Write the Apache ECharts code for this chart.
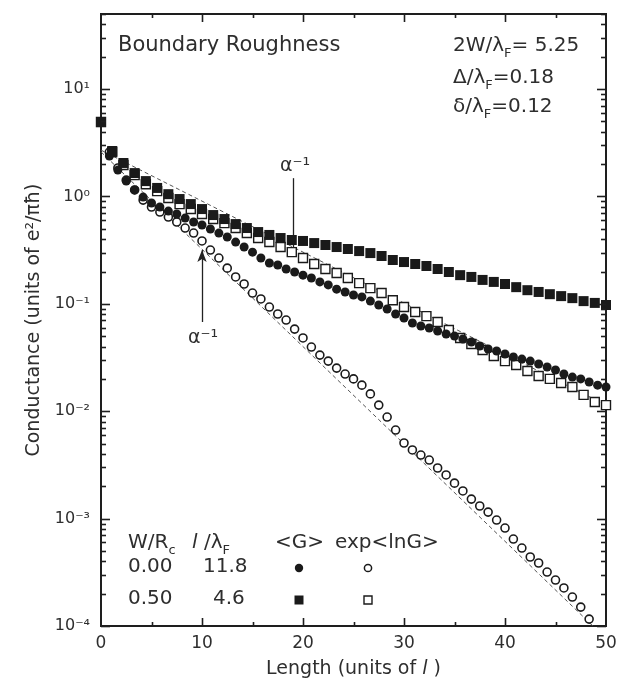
<!DOCTYPE html>
<html>
<head>
<meta charset="utf-8">
<script src="https://cdn.jsdelivr.net/npm/echarts@6/dist/echarts.min.js"></script>
<style>
  html, body { margin: 0; padding: 0; background: #ffffff; }
  #chart { width: 620px; height: 690px; }
</style>
</head>
<body>
<div id="chart"></div>
<script>
// Conductance vs. wire length, boundary roughness model
const FONT = "'DejaVu Sans', 'Liberation Sans', sans-serif";
const INK = '#2e2e2e';
const MARK = '#1a1a1a';

// Length samples (units of l)
const lengthW0 = [0, 0.83, 1.67, 2.5, 3.33, 4.17, 5, 5.83, 6.67, 7.5, 8.33, 9.17, 10, 10.83, 11.67, 12.5,
  13.33, 14.17, 15, 15.83, 16.67, 17.5, 18.33, 19.17, 20, 20.83, 21.67, 22.5, 23.33, 24.17, 25, 25.83,
  26.67, 27.5, 28.33, 29.17, 30, 30.83, 31.67, 32.5, 33.33, 34.17, 35, 35.83, 36.67, 37.5, 38.33, 39.17,
  40, 40.83, 41.67, 42.5, 43.33, 44.17, 45, 45.83, 46.67, 47.5, 48.33, 49.17, 50];
const lengthW05 = [0, 1.11, 2.22, 3.33, 4.44, 5.56, 6.67, 7.78, 8.89, 10, 11.11, 12.22, 13.33, 14.44, 15.56,
  16.67, 17.78, 18.89, 20, 21.11, 22.22, 23.33, 24.44, 25.56, 26.67, 27.78, 28.89, 30, 31.11, 32.22, 33.33,
  34.44, 35.56, 36.67, 37.78, 38.89, 40, 41.11, 42.22, 43.33, 44.44, 45.56, 46.67, 47.78, 48.89, 50];

// W/Rc = 0.00 : <G>
const meanG_W0 = [4.93, 2.38, 1.76, 1.39, 1.15, 0.987, 0.869, 0.797, 0.731, 0.686,
  0.629, 0.578, 0.542, 0.497, 0.456, 0.419, 0.376, 0.338, 0.303, 0.267,
  0.240, 0.230, 0.211, 0.198, 0.185, 0.174, 0.160, 0.150, 0.137, 0.129,
  0.121, 0.116, 0.106, 0.0975, 0.0895, 0.0804, 0.0738, 0.0663, 0.0621, 0.0595,
  0.0558, 0.0524, 0.0501, 0.0470, 0.0441, 0.0405, 0.0380, 0.0364, 0.0341, 0.0320,
  0.0306, 0.0293, 0.0275, 0.0258, 0.0242, 0.0222, 0.0208, 0.0200, 0.0187, 0.0175, 0.0168];
// W/Rc = 0.00 : exp<lnG>
const typG_W0 = [4.93, 2.59, 1.84, 1.42, 1.15, 0.925, 0.797, 0.716, 0.643, 0.578,
  0.508, 0.456, 0.385, 0.317, 0.267, 0.215, 0.178, 0.153, 0.126, 0.111,
  0.0933, 0.0804, 0.0706, 0.0582, 0.0481, 0.0396, 0.0333, 0.0293, 0.0252, 0.0222,
  0.0200, 0.0175, 0.0145, 0.0114, 0.00883, 0.00668, 0.00506, 0.00436, 0.00391, 0.00351,
  0.00296, 0.00255, 0.00214, 0.00181, 0.00152, 0.00131, 0.00115, 0.000970, 0.000817, 0.000645,
  0.000532, 0.000439, 0.000386, 0.000318, 0.000268, 0.000226, 0.000186, 0.000150, 0.000116];
// W/Rc = 0.50 : <G>
const meanG_W05 = [4.93, 2.65, 2.05, 1.65, 1.39, 1.20, 1.05, 0.946, 0.849, 0.763,
  0.671, 0.616, 0.553, 0.508, 0.466, 0.438, 0.410, 0.393, 0.385, 0.368,
  0.353, 0.338, 0.324, 0.310, 0.297, 0.279, 0.256, 0.245, 0.235, 0.225,
  0.211, 0.198, 0.185, 0.178, 0.167, 0.160, 0.153, 0.143, 0.134, 0.129,
  0.123, 0.118, 0.113, 0.106, 0.102, 0.0975];
// W/Rc = 0.50 : exp<lnG>
const typG_W05 = [4.93, 2.59, 1.96, 1.58, 1.30, 1.12, 0.966, 0.849, 0.763, 0.686,
  0.616, 0.565, 0.508, 0.456, 0.410, 0.376, 0.338, 0.303, 0.267, 0.235,
  0.211, 0.194, 0.174, 0.156, 0.140, 0.126, 0.108, 0.0933, 0.0839, 0.0769,
  0.0677, 0.0570, 0.0481, 0.0422, 0.0372, 0.0327, 0.0293, 0.0269, 0.0237, 0.0213,
  0.0200, 0.0183, 0.0168, 0.0142, 0.0122, 0.0114];

// Exponential fits to exp<lnG> (end points)
const fitW0 = [[0, 2.6], [48.7, 1e-4]];
const fitW05 = [[0, 2.7], [50, 0.0114]];

// Localization-length markers (alpha^-1)
const alphaW05 = [[19, 1.48], [19, 0.331]];
const alphaW0 = [[10, 0.0677], [10, 0.317]];

// Axis ranges and ticks
const X_MIN = 0, X_MAX = 50;
const Y_MIN = 1e-4, Y_MAX = 50;
const xMajor = [10, 20, 30, 40];
const xMinor = [5, 15, 25, 35, 45];
const yDecades = [1e-4, 1e-3, 1e-2, 1e-1, 1, 10];
const yMinor = [];
yDecades.forEach(function (d) {
  for (let m = 2; m <= 9; m++) { if (m * d <= Y_MAX) yMinor.push(m * d); }
});

const supDigits = { '-': '⁻', '0': '⁰', '1': '¹', '2': '²', '3': '³', '4': '⁴' };
function powerLabel(v) {
  const e = String(Math.round(Math.log10(v)));
  return '10' + e.split('').map(function (c) { return supDigits[c]; }).join('');
}
function pairs(xs, ys) { return ys.map(function (y, i) { return [xs[i], y]; }); }

const chart = echarts.init(document.getElementById('chart'), null, { renderer: 'canvas' });

const axisLine = { show: true, onZero: false, lineStyle: { color: '#1e1e1e', width: 2 } };
const TICK_COLOR = '#1e1e1e';

// Inward ticks on all four frame sides, placed through the axis scales
const tickItems = []
  .concat(yDecades.map(function (v) { return ['y', v, 9]; }))
  .concat(yMinor.map(function (v) { return ['y', v, 5]; }))
  .concat(xMajor.map(function (v) { return ['x', v, 8]; }))
  .concat(xMinor.map(function (v) { return ['x', v, 4]; }));

function tickLine(x1, y1, x2, y2) {
  return {
    type: 'line', shape: { x1: x1, y1: y1, x2: x2, y2: y2 },
    style: { stroke: TICK_COLOR, lineWidth: 1.6, fill: null }
  };
}
function renderTick(params, api) {
  const item = tickItems[params.dataIndex];
  const cs = params.coordSys;
  const len = item[2];
  if (item[0] === 'y') {
    const py = Math.round(api.coord([X_MIN, item[1]])[1]) + 0.5;
    return { type: 'group', children: [
      tickLine(cs.x, py, cs.x + len, py),
      tickLine(cs.x + cs.width, py, cs.x + cs.width - len, py)
    ] };
  }
  const px = Math.round(api.coord([item[1], Y_MAX])[0]) + 0.5;
  return { type: 'group', children: [
    tickLine(px, cs.y + cs.height, px, cs.y + cs.height - len),
    tickLine(px, cs.y, px, cs.y + len)
  ] };
}

function lambdaF(prefix, suffix) { return prefix + 'λ{sub|F}' + suffix; }
const subRich = {
  sub: { fontFamily: FONT, fontSize: 13, color: INK, verticalAlign: 'bottom', lineHeight: 12, padding: [0, 0, -4, 0] }
};
function txt(x, y, text, size, extra) {
  return {
    type: 'text', x: x, y: y, silent: true, z: 100,
    style: Object.assign({
      text: text, fontFamily: FONT, fontSize: size, fill: INK,
      verticalAlign: 'middle', align: 'left', rich: subRich
    }, extra || {})
  };
}

const option = {
  animation: false,
  backgroundColor: '#ffffff',
  grid: {
    left: 101, right: 14, top: 14, bottom: 64, containLabel: false,
    show: true, borderColor: '#1e1e1e', borderWidth: 2, backgroundColor: 'transparent'
  },
  xAxis: {
    type: 'value', min: X_MIN, max: X_MAX, interval: 10, position: 'bottom',
    axisLine: axisLine, axisTick: { show: false }, splitLine: { show: false },
    axisLabel: { show: true, fontFamily: FONT, fontSize: 17, color: INK, margin: 9 },
    name: 'Length (units of {i|l} )', nameLocation: 'middle', nameGap: 34,
    nameTextStyle: {
      fontFamily: FONT, fontSize: 19, color: INK,
      rich: { i: { fontFamily: FONT, fontSize: 19, fontStyle: 'italic', color: INK } }
    }
  },
  yAxis: {
    type: 'log', logBase: 10, min: Y_MIN, max: Y_MAX, position: 'left',
    axisLine: axisLine, axisTick: { show: false }, splitLine: { show: false }, minorTick: { show: false },
    axisLabel: {
      show: true, customValues: yDecades, formatter: powerLabel,
      fontFamily: FONT, fontSize: 16, color: INK, margin: 11
    },
    name: 'Conductance (units of e²/πħ)', nameLocation: 'middle', nameGap: 56,
    nameTextStyle: { fontFamily: FONT, fontSize: 19, color: INK }
  },
  series: [
    {
      type: 'custom', coordinateSystem: 'cartesian2d', silent: true, z: 10, clip: false,
      data: tickItems.map(function (t) { return t[0] === 'y' ? [X_MIN, t[1]] : [t[1], Y_MAX]; }),
      renderItem: renderTick
    },
    {
      type: 'line', data: fitW0, showSymbol: false, symbol: 'none', z: 1,
      lineStyle: { type: [4, 3], width: 1, color: '#555' },
      markLine: {
        silent: true, symbol: ['none', 'none'],
        lineStyle: { type: 'solid', width: 1.3, color: '#222' },
        label: { show: false },
        data: [
          [{ coord: alphaW05[0] }, { coord: alphaW05[1] }],
          [{ coord: alphaW0[0], symbol: 'none' }, { coord: alphaW0[1], symbol: 'arrow', symbolSize: [7, 12] }]
        ]
      }
    },
    {
      type: 'line', data: fitW05, showSymbol: false, symbol: 'none', z: 1,
      lineStyle: { type: [4, 3], width: 1, color: '#555' }
    },
    {
      name: 'exp<lnG> W/Rc=0.00', type: 'scatter', data: pairs(lengthW0, typG_W0), z: 3,
      symbol: 'circle', symbolSize: 8,
      itemStyle: { color: '#ffffff', borderColor: MARK, borderWidth: 1.6, opacity: 1 }
    },
    {
      name: 'exp<lnG> W/Rc=0.50', type: 'scatter', data: pairs(lengthW05, typG_W05), z: 3,
      symbol: 'rect', symbolSize: 9,
      itemStyle: { color: '#ffffff', borderColor: MARK, borderWidth: 1.4, opacity: 1 }
    },
    {
      name: '<G> W/Rc=0.00', type: 'scatter', data: pairs(lengthW0, meanG_W0), z: 4,
      symbol: 'circle', symbolSize: 9,
      itemStyle: { color: MARK, opacity: 1 }
    },
    {
      name: '<G> W/Rc=0.50', type: 'scatter', data: pairs(lengthW05, meanG_W05), z: 5,
      symbol: 'rect', symbolSize: 10,
      itemStyle: { color: MARK, opacity: 1 }
    }
  ],
  graphic: [
    txt(118, 46, 'Boundary Roughness', 21),
    txt(453, 46, lambdaF('2W/', '= 5.25'), 20),
    txt(453, 78, lambdaF('Δ/', '=0.18'), 20),
    txt(453, 107, lambdaF('δ/', '=0.12'), 20),
    txt(295, 166, 'α⁻¹', 19, { align: 'center' }),
    txt(203, 338, 'α⁻¹', 19, { align: 'center' }),
    // legend table
    txt(128, 543, 'W/R{sub|c}', 20),
    txt(192, 543, '{it|l} /λ{sub|F}', 20, { rich: Object.assign({ it: { fontFamily: FONT, fontSize: 20, fontStyle: 'italic', fill: INK } }, subRich) }),
    txt(275, 543, '<G>', 20),
    txt(335, 543, 'exp<lnG>', 20),
    txt(128, 567, '0.00', 20),
    txt(203, 567, '11.8', 20),
    txt(128, 599, '0.50', 20),
    txt(213, 599, '4.6', 20),
    { type: 'circle', shape: { cx: 299, cy: 568, r: 4.2 }, style: { fill: MARK }, silent: true },
    { type: 'circle', shape: { cx: 368, cy: 568, r: 3.6 }, style: { fill: '#fff', stroke: MARK, lineWidth: 1.5 }, silent: true },
    { type: 'rect', shape: { x: 294.5, y: 595.5, width: 9, height: 9 }, style: { fill: MARK }, silent: true },
    { type: 'rect', shape: { x: 364, y: 596, width: 8, height: 8 }, style: { fill: '#fff', stroke: MARK, lineWidth: 1.4 }, silent: true }
  ]
};

chart.setOption(option);
</script>
</body>
</html>
